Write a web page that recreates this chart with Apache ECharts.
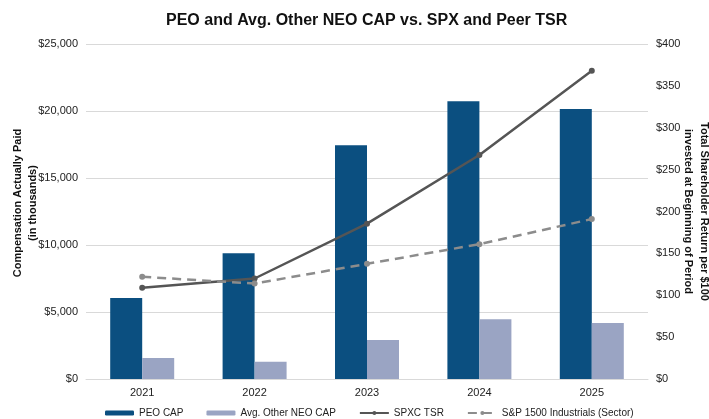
<!DOCTYPE html>
<html>
<head>
<meta charset="utf-8">
<script src="https://cdn.jsdelivr.net/npm/echarts@6/dist/echarts.min.js"></script>
<style>
  html, body { margin: 0; padding: 0; background: #fff; }
  #chart { width: 709px; height: 419px; }
</style>
</head>
<body>
<div id="chart"></div>
<script>
// 数据
const years = ['2021', '2022', '2023', '2024', '2025']
const peoCap = [6040, 9380, 17450, 20720, 20150]
const neoCap = [1570, 1290, 2910, 4450, 4180]
const spxcTsr = [109, 120, 185.5, 267.5, 368]
const sectorTsr = [122, 114, 137.5, 161, 191]

const font = 'Liberation Sans, Arial, sans-serif'

const option = {
  title: {
    text: 'PEO and Avg. Other NEO CAP vs. SPX and Peer TSR',
    left: 161,
    top: 8,
    textStyle: { fontFamily: font, fontSize: 16, fontWeight: 'bold', color: '#111' }
  },
  legend: {
    top: 403,
    left: 100,
    itemGap: 23,
    itemWidth: 29,
    itemHeight: 5,
    textStyle: { fontFamily: font, fontSize: 10, color: '#222' },
    data: ['PEO CAP', 'Avg. Other NEO CAP', 'SPXC TSR', 'S&P 1500 Industrials (Sector)']
  },
  grid: { left: 86, right: 61, top: 44, bottom: 40, outerBoundsMode: 'none' },
  xAxis: {
    type: 'category',
    data: years,
    axisLine: { lineStyle: { color: '#d9d9d9' } },
    axisTick: { show: false },
    axisLabel: { fontFamily: font, fontSize: 11, color: '#222', margin: 8 }
  },
  yAxis: [
    {
      type: 'value',
      min: 0,
      max: 25000,
      interval: 5000,
      name: 'Compensation Actually Paid\n(in thousands)',
      nameLocation: 'middle',
      nameMoveOverlap: false,
      nameGap: 46,
      nameTextStyle: {
        fontFamily: font, fontSize: 11, fontWeight: 'bold', color: '#111', lineHeight: 15,
        padding: [0, 0, 0, 17]
      },
      axisLabel: {
        fontFamily: font, fontSize: 11, color: '#222', margin: 8,
        formatter: v => '$' + v.toLocaleString('en-US')
      },
      splitLine: { lineStyle: { color: '#d9d9d9' } }
    },
    {
      type: 'value',
      min: 0,
      max: 400,
      interval: 50,
      name: 'Total Shareholder Return per $100\ninvested at Beginning of Period',
      nameLocation: 'middle',
      nameMoveOverlap: false,
      nameRotate: -90,
      nameGap: 32,
      nameTextStyle: { fontFamily: font, fontSize: 11, fontWeight: 'bold', color: '#111', lineHeight: 16 },
      axisLabel: {
        fontFamily: font, fontSize: 11, color: '#222', margin: 8,
        formatter: v => '$' + v
      },
      splitLine: { show: false }
    }
  ],
  series: [
    {
      name: 'PEO CAP',
      type: 'bar',
      data: peoCap,
      barWidth: 32,
      barGap: '0%',
      itemStyle: { color: '#0b4f80' }
    },
    {
      name: 'Avg. Other NEO CAP',
      type: 'bar',
      data: neoCap,
      barWidth: 32,
      itemStyle: { color: '#9aa4c3' }
    },
    {
      name: 'SPXC TSR',
      type: 'line',
      yAxisIndex: 1,
      data: spxcTsr,
      symbol: 'circle',
      symbolSize: 6,
      lineStyle: { color: '#555555', width: 2.5 },
      itemStyle: { color: '#555555' }
    },
    {
      name: 'S&P 1500 Industrials (Sector)',
      type: 'line',
      yAxisIndex: 1,
      data: sectorTsr,
      symbol: 'circle',
      symbolSize: 6,
      lineStyle: { color: '#8c8c8c', width: 2.5, type: [9, 6] },
      itemStyle: { color: '#8c8c8c' }
    }
  ]
}

const chart = echarts.init(document.getElementById('chart'))
chart.setOption(option)
</script>
</body>
</html>
